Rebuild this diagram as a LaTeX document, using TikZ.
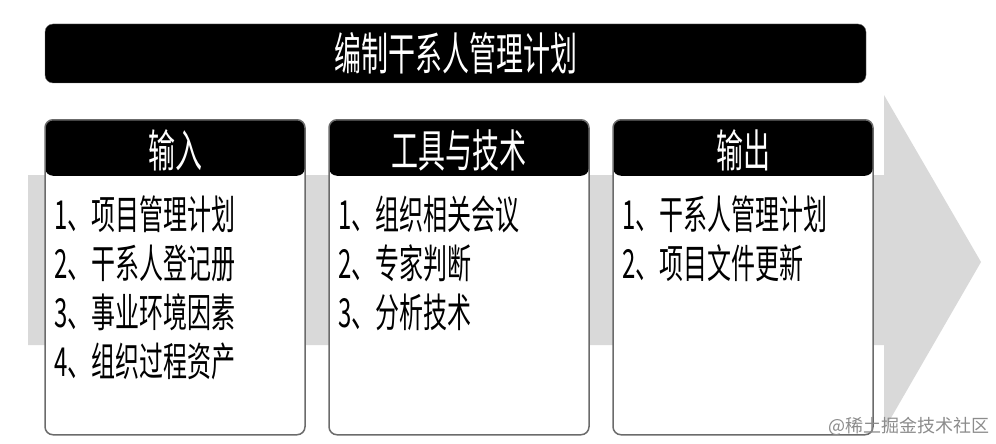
\documentclass[tikz,border=0pt]{standalone}
\usepackage{fontspec}
\newfontfamily\cjk[FakeStretch=0.6]{Noto Sans CJK SC}
\newfontfamily\cjkplain{Noto Sans CJK SC}
\usepackage{tikz}
\usetikzlibrary{positioning}
\definecolor{bandgray}{gray}{0.85}
\definecolor{rimgray}{gray}{0.42}
\tikzset{
  procbar/.style ={rectangle, rounded corners=8pt, draw=rimgray, fill=black,
                   text=white, minimum width=821pt, minimum height=59pt,
                   inner sep=0pt, font=\cjk\fontsize{45}{45}\selectfont},
  colbox/.style  ={rectangle, rounded corners=8pt, draw=rimgray, line width=1.5pt,
                   fill=white, minimum width=260pt, minimum height=315pt, inner sep=0pt,
                   path picture={\fill[black] (path picture bounding box.north west)
                     rectangle ([yshift=-56pt]path picture bounding box.north east);}},
  colhead/.style ={text=white, inner sep=0pt, font=\cjk\fontsize{45}{45}\selectfont},
  colitems/.style={anchor=north west, align=left, inner sep=0pt,
                   font=\cjk\fontsize{40}{49}\selectfont}
}

\begin{document}
\begin{tikzpicture}[x=1pt, y=-1pt]
  \useasboundingbox (0,0) rectangle (996,444);
  % background arrow
  \fill[bandgray] (28,175) -- (884,175) -- (884,95) -- (981,262)
                  -- (884,430) -- (884,345) -- (28,345) -- cycle;

  \node[procbar] (title) at (455.5,53.5) {编制干系人管理计划};

  \node[colbox, anchor=north]     (inbox)   at (175,119) {};
  \node[colbox, right=22.5pt of inbox]  (toolbox) {};
  \node[colbox, right=22.5pt of toolbox] (outbox) {};

  \node[colhead] (inhead)   at ([yshift=-31pt]inbox.north)   {输入};
  \node[colhead] (toolhead) at ([yshift=-31pt]toolbox.north) {工具与技术};
  \node[colhead] (outhead)  at ([yshift=-31pt]outbox.north)  {输出};

  \node[colitems] (initems)   at ([xshift=10pt,yshift=-77pt]inbox.north west)
    {1、项目管理计划\\2、干系人登记册\\3、事业环境因素\\4、组织过程资产};
  \node[colitems] (toolitems) at ([xshift=10pt,yshift=-77pt]toolbox.north west)
    {1、组织相关会议\\2、专家判断\\3、分析技术};
  \node[colitems] (outitems)  at ([xshift=10pt,yshift=-77pt]outbox.north west)
    {1、干系人管理计划\\2、项目文件更新};

  \node[text=black!45, inner sep=0pt, font=\cjkplain\fontsize{18}{18}\selectfont]
    (mark) at (909,426) {@稀土掘金技术社区};
\end{tikzpicture}
\end{document}
